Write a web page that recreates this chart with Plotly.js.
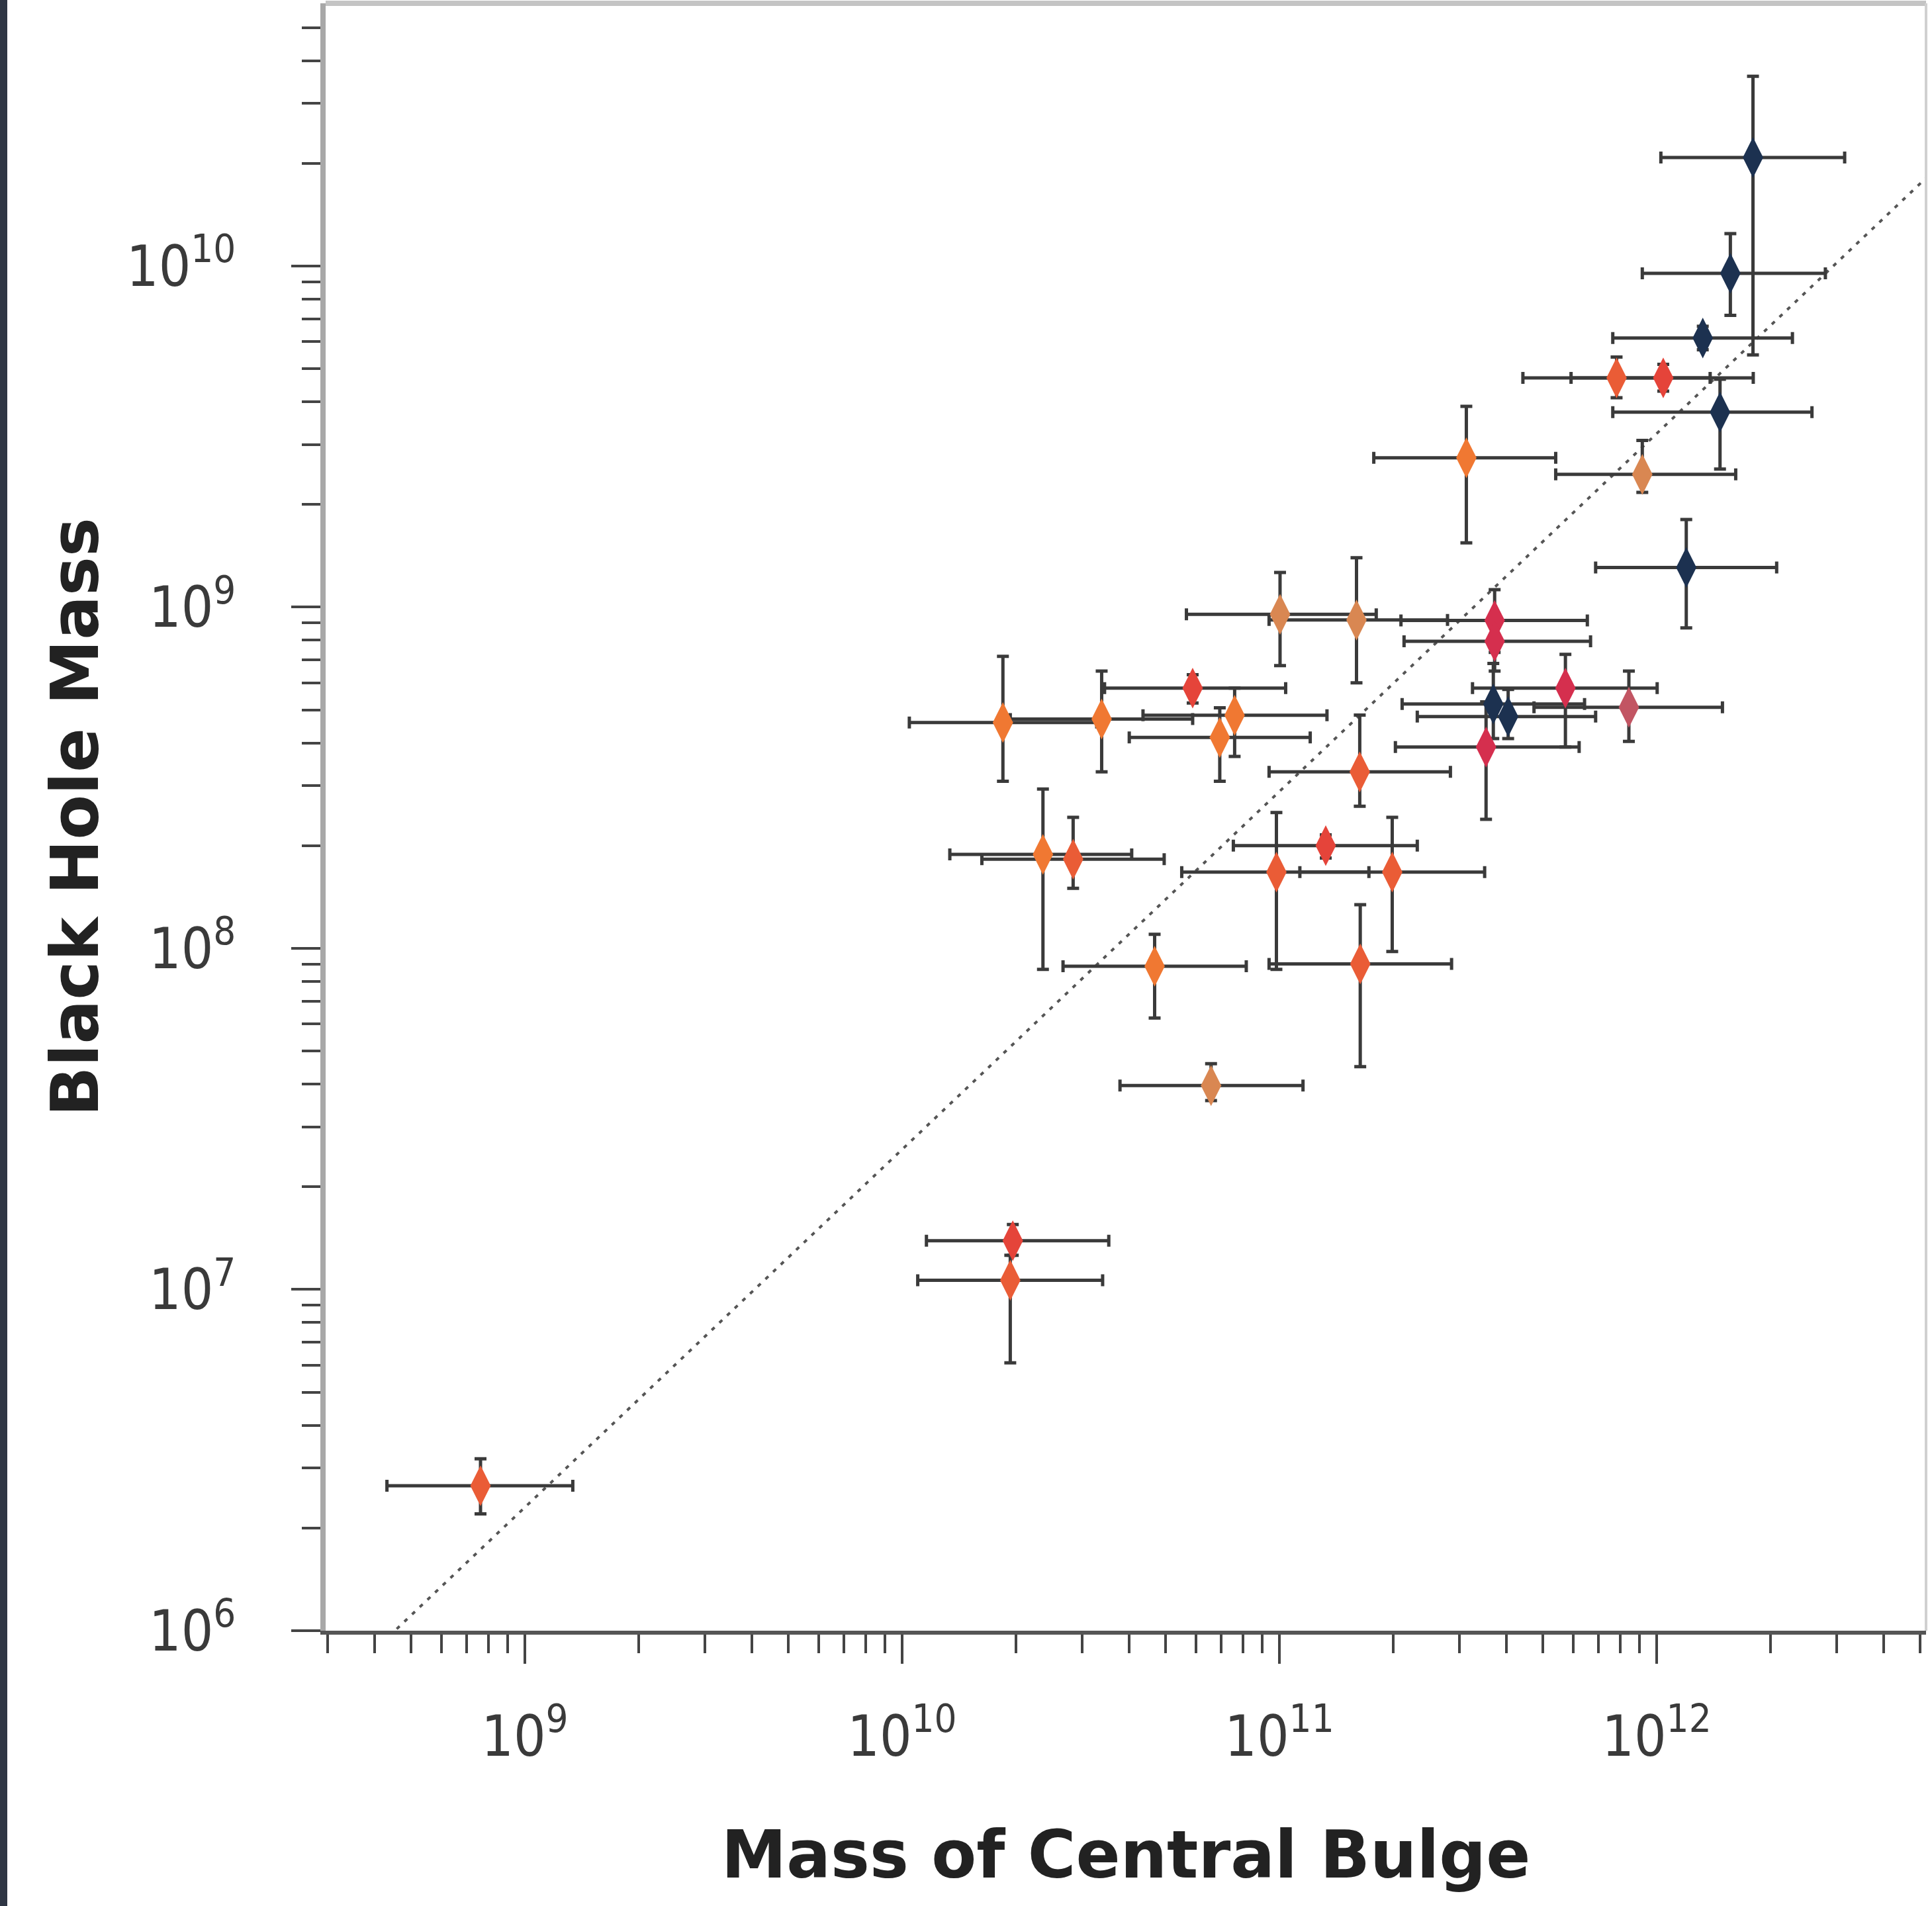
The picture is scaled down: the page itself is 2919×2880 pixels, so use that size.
<!DOCTYPE html>
<html>
<head>
<meta charset="utf-8">
<script src="https://cdn.plot.ly/plotly-3.0.1.min.js"></script>
<style>
  html, body { margin: 0; padding: 0; background: #2f3644; }
  #chart { position: absolute; left: 11px; top: 0; width: 2908px; height: 2880px; background: #fff; }
</style>
</head>
<body>
<div id="chart"></div>
<script>
// ---- Data ----
const bulgeMass = [7.63e8, 1.965e10, 1.935e10, 6.59e10, 4.67e10, 1.638e11, 2.362e10, 2.84e10, 9.82e10, 1.327e11,
  1.991e11, 1.85e10, 3.38e10, 5.89e10, 7.61e10, 6.95e10, 1.004e11, 1.601e11, 3.72e11, 3.72e11,
  3.69e11, 4.04e11, 5.73e11, 3.53e11, 8.44e11, 1.198e12, 1.633e11, 1.80e12, 1.568e12, 1.325e12,
  7.83e11, 1.041e12, 1.472e12, 3.13e11, 9.16e11];
const bulgeMassLow = [4.31e8, 1.16e10, 1.10e10, 3.78e10, 2.67e10, 9.39e10, 1.338e10, 1.627e10, 5.51e10, 7.55e10,
  1.133e11, 1.045e10, 1.935e10, 3.44e10, 4.35e10, 4.0e10, 5.67e10, 9.39e10, 2.10e11, 2.14e11,
  2.115e11, 2.32e11, 3.25e11, 2.03e11, 4.73e11, 6.89e11, 9.39e10, 1.026e12, 9.16e11, 7.65e11,
  4.42e11, 5.93e11, 7.65e11, 1.779e11, 5.40e11];
const bulgeMassHigh = [1.34e9, 3.53e10, 3.40e10, 1.155e11, 8.17e10, 2.86e11, 4.06e10, 4.95e10, 1.727e11, 2.32e11,
  3.50e11, 3.28e10, 5.89e10, 1.039e11, 1.337e11, 1.207e11, 1.806e11, 2.79e11, 6.55e11, 6.68e11,
  6.44e11, 6.89e11, 1.003e12, 6.23e11, 1.494e12, 2.08e12, 2.84e11, 3.15e12, 2.80e12, 2.29e12,
  1.386e12, 1.803e12, 2.58e12, 5.40e11, 1.62e12];
const bhMass = [2.66e6, 1.39e7, 1.065e7, 3.96e7, 8.86e7, 9.0e7, 1.886e8, 1.825e8, 1.673e8, 2.0e8,
  1.673e8, 4.59e8, 4.70e8, 5.79e8, 4.82e8, 4.15e8, 9.53e8, 9.17e8, 9.14e8, 7.94e8,
  5.2e8, 4.78e8, 5.79e8, 3.89e8, 5.09e8, 1.307e9, 3.29e8, 2.08e10, 9.52e9, 6.15e9,
  4.70e9, 4.70e9, 3.73e9, 2.74e9, 2.45e9];
const bhMassLow = [2.20e6, 1.26e7, 6.1e6, 3.58e7, 6.25e7, 4.50e7, 8.68e7, 1.50e8, 8.68e7, 1.84e8,
  9.79e7, 3.09e8, 3.29e8, 5.24e8, 3.65e8, 3.09e8, 6.74e8, 6.0e8, 7.37e8, 6.50e8,
  4.12e8, 4.12e8, 3.89e8, 2.39e8, 4.04e8, 8.70e8, 2.61e8, 5.49e9, 7.17e9, 5.68e9,
  4.11e9, 4.3e9, 2.54e9, 1.543e9, 2.17e9];
const bhMassHigh = [3.19e6, 1.55e7, 1.26e7, 4.59e7, 1.10e8, 1.342e8, 2.93e8, 2.42e8, 2.50e8, 2.15e8,
  2.42e8, 7.18e8, 6.50e8, 6.34e8, 5.79e8, 5.07e8, 1.264e9, 1.396e9, 1.125e9, 9.07e8,
  6.84e8, 5.74e8, 7.27e8, 5.28e8, 6.5e8, 1.806e9, 4.83e8, 3.60e10, 1.245e10, 6.66e9,
  5.41e9, 5.15e9, 4.66e9, 3.88e9, 3.08e9];
const pointGroup = ['orangered', 'red', 'orangered', 'tan', 'orange', 'orangered', 'orange', 'orangered', 'orangered', 'red',
  'orangered', 'orange', 'orange', 'red', 'orange', 'orange', 'tan', 'tan', 'crimson', 'crimson',
  'navy', 'navy', 'crimson', 'crimson', 'rose', 'navy', 'orangered', 'navy', 'navy', 'navy',
  'orangered', 'red', 'navy', 'orange', 'tan'];
// Reference relation line (two end points)
const relationX = [3.0e8, 5.2e12];
const relationY = [6.5e5, 1.82e10];

// ---- Styles ----
const groupColors = {
  navy: '#1c3150', crimson: '#d52f4e', rose: '#c25563', red: '#e5443a',
  orangered: '#ea5c36', orange: '#f07832', tan: '#d98752'
};
const sub = (a, b) => a.map((v, i) => v - b[i]);

const tickFont = { family: 'DejaVu Sans Condensed, Liberation Sans Narrow, DejaVu Sans', size: 68, color: '#3a3a3a' };
const titleFont = { family: 'DejaVu Sans', size: 99, color: '#222222' };

const traces = [
  {
    type: 'scatter', mode: 'lines',
    x: relationX, y: relationY,
    line: { color: '#555555', width: 4, dash: '6px,10px' },
    hoverinfo: 'skip', showlegend: false
  },
  {
    type: 'scatter', mode: 'markers',
    x: bulgeMass, y: bhMass,
    error_x: { type: 'data', symmetric: false, array: sub(bulgeMassHigh, bulgeMass), arrayminus: sub(bulgeMass, bulgeMassLow),
               color: '#3a3a3a', thickness: 5, width: 9 },
    error_y: { type: 'data', symmetric: false, array: sub(bhMassHigh, bhMass), arrayminus: sub(bhMass, bhMassLow),
               color: '#3a3a3a', thickness: 5, width: 9 },
    marker: { symbol: 'diamond-tall', size: 44, color: pointGroup.map(g => groupColors[g]), line: { width: 0 } },
    showlegend: false
  }
];

const axisCommon = {
  type: 'log', dtick: 1, exponentformat: 'power', showexponent: 'all',
  ticks: 'outside', ticklen: 44, tickwidth: 4, tickcolor: '#444444',
  showline: true, showgrid: false, zeroline: false,
  tickfont: tickFont,
  minor: { dtick: 'D1', ticks: 'outside', ticklen: 28, tickwidth: 4, tickcolor: '#444444', showgrid: false }
};

const layout = {
  width: 2908, height: 2880,
  margin: { l: 481, r: 9, t: 5, b: 416, pad: 0 },
  paper_bgcolor: '#ffffff', plot_bgcolor: '#ffffff',
  showlegend: false,
  xaxis: Object.assign({}, axisCommon, {
    range: [8.472, 12.714], linecolor: '#555555', linewidth: 6,
    ticklabelstandoff: 40,
    title: { text: '<b>Mass of Central Bulge</b>', font: titleFont, standoff: 98 }
  }),
  yaxis: Object.assign({}, axisCommon, {
    range: [6.0, 10.77], linecolor: '#a8a8a8', linewidth: 8,
    ticklabelstandoff: 70,
    title: { text: '<b>Black Hole Mass</b>', font: titleFont, standoff: 12 }
  }),
  shapes: [
    { type: 'line', xref: 'paper', yref: 'paper', x0: 0, x1: 1, y0: 1, y1: 1, line: { color: '#c4c4c4', width: 8 } },
    { type: 'line', xref: 'paper', yref: 'paper', x0: 1, x1: 1, y0: 0, y1: 1, line: { color: '#d0d0d0', width: 4 } }
  ]
};

Plotly.newPlot('chart', traces, layout, { staticPlot: true, displayModeBar: false });
</script>
</body>
</html>
